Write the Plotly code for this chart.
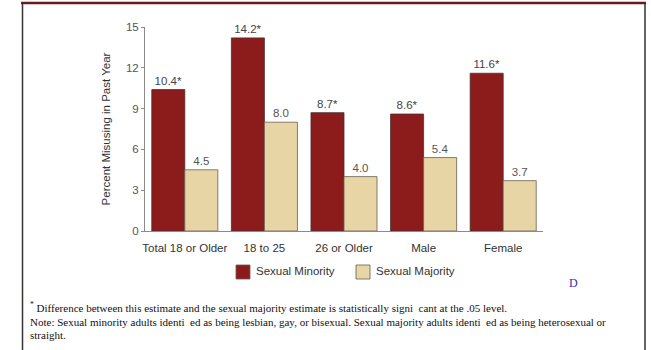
import plotly.graph_objects as go

categories = ["Total 18 or Older", "18 to 25", "26 or Older", "Male", "Female"]
minority = [10.4, 14.2, 8.7, 8.6, 11.6]
majority = [4.5, 8.0, 4.0, 5.4, 3.7]
minority_sig = [True, True, True, True, True]
y_ticks = [0, 3, 6, 9, 12, 15]
series_names = ["Sexual Minority", "Sexual Majority"]
series_colors = ["#8c1b1b", "#e8d5a6"]

W, H = 651, 350
# plot area in pixels
X0, X1 = 145, 543
Y_TOP, Y_BOT = 27, 231


def px(x):
    return (x - X0) / (X1 - X0)


def py(y):
    return (Y_BOT - y) / (Y_BOT - Y_TOP)


sans = "Liberation Sans, Arial, sans-serif"
serif = "Liberation Serif, Times New Roman, serif"

min_text = [f"{v:.1f}" + ("*" if s else "") for v, s in zip(minority, minority_sig)]
maj_text = [f"{v:.1f}" for v in majority]

fig = go.Figure()
fig.add_trace(go.Bar(
    name=series_names[0], x=categories, y=minority, showlegend=False,
    marker=dict(color=series_colors[0], line=dict(color="#4a3030", width=0.8)),
    text=min_text, textposition="outside", cliponaxis=False,
    textfont=dict(family=sans, size=11.5, color="#444444"),
))
fig.add_trace(go.Bar(
    name=series_names[1], x=categories, y=majority, showlegend=False,
    marker=dict(color=series_colors[1], line=dict(color="#6a6050", width=0.8)),
    text=maj_text, textposition="outside", cliponaxis=False,
    textfont=dict(family=sans, size=11.5, color="#555555"),
))

shapes = [
    # outer frame
    dict(type="line", xref="paper", yref="paper", x0=px(21), x1=px(646), y0=py(3), y1=py(3),
         line=dict(color="#6a1a1a", width=2.5)),
    dict(type="line", xref="paper", yref="paper", x0=px(22.5), x1=px(22.5), y0=py(3), y1=py(352),
         line=dict(color="#333333", width=1.5)),
    dict(type="line", xref="paper", yref="paper", x0=px(645), x1=px(645), y0=py(3), y1=py(352),
         line=dict(color="#333333", width=1.5)),
]

annotations = []

# legend: swatch + label for each series
legend_x = [236, 356]
for name, color, lx in zip(series_names, series_colors, legend_x):
    shapes.append(dict(type="rect", xref="paper", yref="paper",
                       x0=px(lx), x1=px(lx + 14), y0=py(265), y1=py(279),
                       fillcolor=color, line=dict(color="#6a5a50", width=0.8)))
    annotations.append(dict(text=name, xref="paper", yref="paper", x=px(lx + 18), y=py(271),
                            xanchor="left", yanchor="middle", showarrow=False,
                            font=dict(family=sans, size=11.5, color="#333333")))

notes = [
    ("<sup>*</sup> Difference between this estimate and the sexual majority estimate is statistically signi  cant at the .05 level.", 307),
    ("Note: Sexual minority adults identi  ed as being lesbian, gay, or bisexual. Sexual majority adults identi  ed as being heterosexual or", 322),
    ("straight.", 335),
]
for t, yy in notes:
    annotations.append(dict(text=t, xref="paper", yref="paper", x=px(28), y=py(yy),
                            xanchor="left", yanchor="middle", showarrow=False,
                            font=dict(family=serif, size=11, color="#111111")))
annotations.append(dict(text="D", xref="paper", yref="paper", x=px(573), y=py(283),
                        xanchor="center", yanchor="middle", showarrow=False,
                        font=dict(family=serif, size=12, color="#3030c0")))

fig.update_layout(
    width=W, height=H,
    margin=dict(l=X0, r=W - X1, t=Y_TOP, b=H - Y_BOT),
    paper_bgcolor="white", plot_bgcolor="white",
    barmode="group", bargap=0.17, bargroupgap=0,
    font=dict(family=sans, size=12, color="#444444"),
    showlegend=False,
    xaxis=dict(showline=True, linecolor="#8a8a8a", linewidth=1, ticks="",
               tickfont=dict(family=sans, size=11.5, color="#333333"), ticklabelstandoff=6),
    yaxis=dict(range=[0, 15], tickvals=y_ticks, showgrid=False, zeroline=False,
               showline=True, linecolor="#8a8a8a", linewidth=1, ticks="outside", ticklen=3,
               tickcolor="#8a8a8a", tickfont=dict(family=sans, size=11.5, color="#555555"),
               title=dict(text="Percent Misusing in Past Year", standoff=12,
                          font=dict(family=sans, size=11.5, color="#333333"))),
    shapes=shapes, annotations=annotations,
)

fig.write_html("out.html")
